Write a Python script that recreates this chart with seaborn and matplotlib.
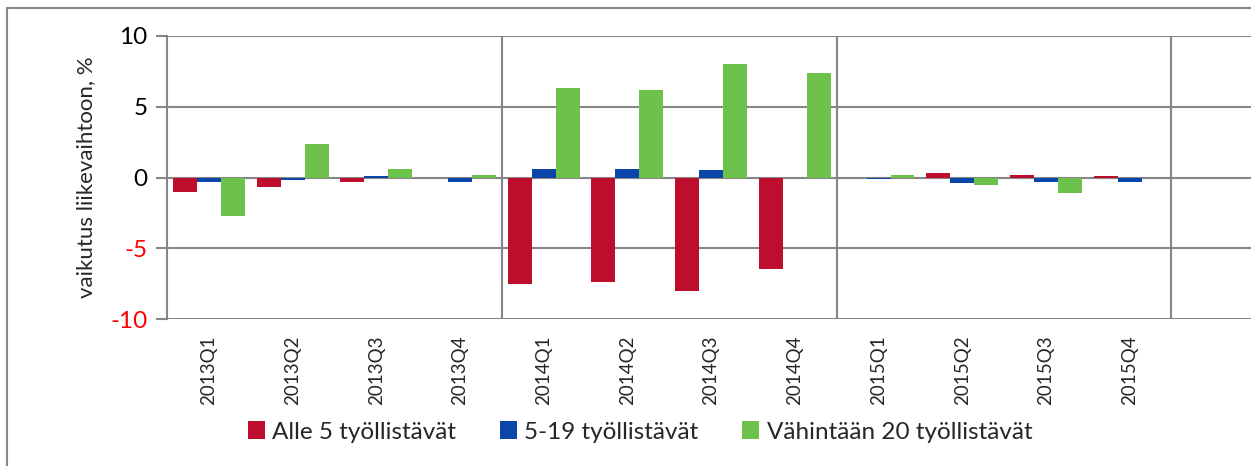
import matplotlib
matplotlib.use("Agg")
import matplotlib.pyplot as plt
import seaborn as sns
import pandas as pd
from matplotlib.patches import Rectangle, Patch

quarters = ["2013Q1", "2013Q2", "2013Q3", "2013Q4",
            "2014Q1", "2014Q2", "2014Q3", "2014Q4",
            "2015Q1", "2015Q2", "2015Q3", "2015Q4"]
series_names = ["Alle 5 työllistävät", "5-19 työllistävät", "Vähintään 20 työllistävät"]
alle5 = [-1.0, -0.7, -0.3, 0.0, -7.5, -7.4, -8.0, -6.5, 0.0, 0.3, 0.2, 0.1]
s5_19 = [-0.3, -0.2, 0.1, -0.3, 0.6, 0.6, 0.5, 0.0, -0.1, -0.4, -0.3, -0.3]
v20 = [-2.7, 2.4, 0.6, 0.2, 6.3, 6.2, 8.0, 7.4, 0.2, -0.5, -1.1, -0.05]
colors = ["#BE0E2E", "#0A46AA", "#6CC24A"]
y_ticks = [-10, -5, 0, 5, 10]

rows = []
for name, vals in zip(series_names, [alle5, s5_19, v20]):
    for q, v in zip(quarters, vals):
        rows.append({"quarter": q, "series": name, "value": v})
df = pd.DataFrame(rows)

sns.set_theme(style="white")
plt.rcParams['font.family'] = ['Lato', 'DejaVu Sans']

fig = plt.figure(figsize=(12.51, 4.66), dpi=100)
ax = fig.add_axes([167/1251, 1-319/466, 1-167/1251, (319-36)/466])

sns.barplot(data=df, x="quarter", y="value", hue="series", order=quarters,
            hue_order=series_names, palette=colors, width=0.86,
            saturation=1, edgecolor="none", linewidth=0, legend=False, ax=ax)

grid_c = "#868686"
ax.set_ylim(-10, 10)
ax.set_xlim(-0.5, 12.45)
ax.set_yticks(y_ticks)
ax.set_yticklabels([str(t) for t in y_ticks], fontsize=17.5)
for lab, t in zip(ax.get_yticklabels(), y_ticks):
    lab.set_color("#FF0000" if t < 0 else "black")
for t in y_ticks:
    ax.axhline(t, color=grid_c, lw=1.5, zorder=0)
for xv in [3.5, 7.5, 11.5]:
    ax.axvline(xv, color=grid_c, lw=1.5, zorder=0)
ax.tick_params(axis="y", direction="out", length=8, width=1.5, color=grid_c, pad=6, left=True)
ax.tick_params(axis="x", length=0, pad=12)
ax.set_xticks(range(len(quarters)))
ax.set_xticklabels(quarters, rotation=90, fontsize=13.5, va="top")
for s in ["top", "right", "bottom"]:
    ax.spines[s].set_visible(False)
ax.spines["left"].set_color(grid_c)
ax.spines["left"].set_linewidth(1.5)
ax.set_xlabel("")
ax.set_ylabel("vaikutus liikevaihtoon, %", fontsize=16, labelpad=10)

handles = [Patch(facecolor=c, edgecolor="none") for c in colors]
fig.legend(handles, series_names, loc="center", bbox_to_anchor=(640/1251, 1-432/466),
           ncol=3, frameon=False, fontsize=17.5, handlelength=0.7, handleheight=0.7,
           handletextpad=0.3, columnspacing=1.8)

fig.patches.append(Rectangle((7/1251, -0.1), 1.2, 1-8/466+0.1, transform=fig.transFigure,
                             fill=False, edgecolor=grid_c, lw=1.5))

fig.savefig("out.png", dpi=100)
